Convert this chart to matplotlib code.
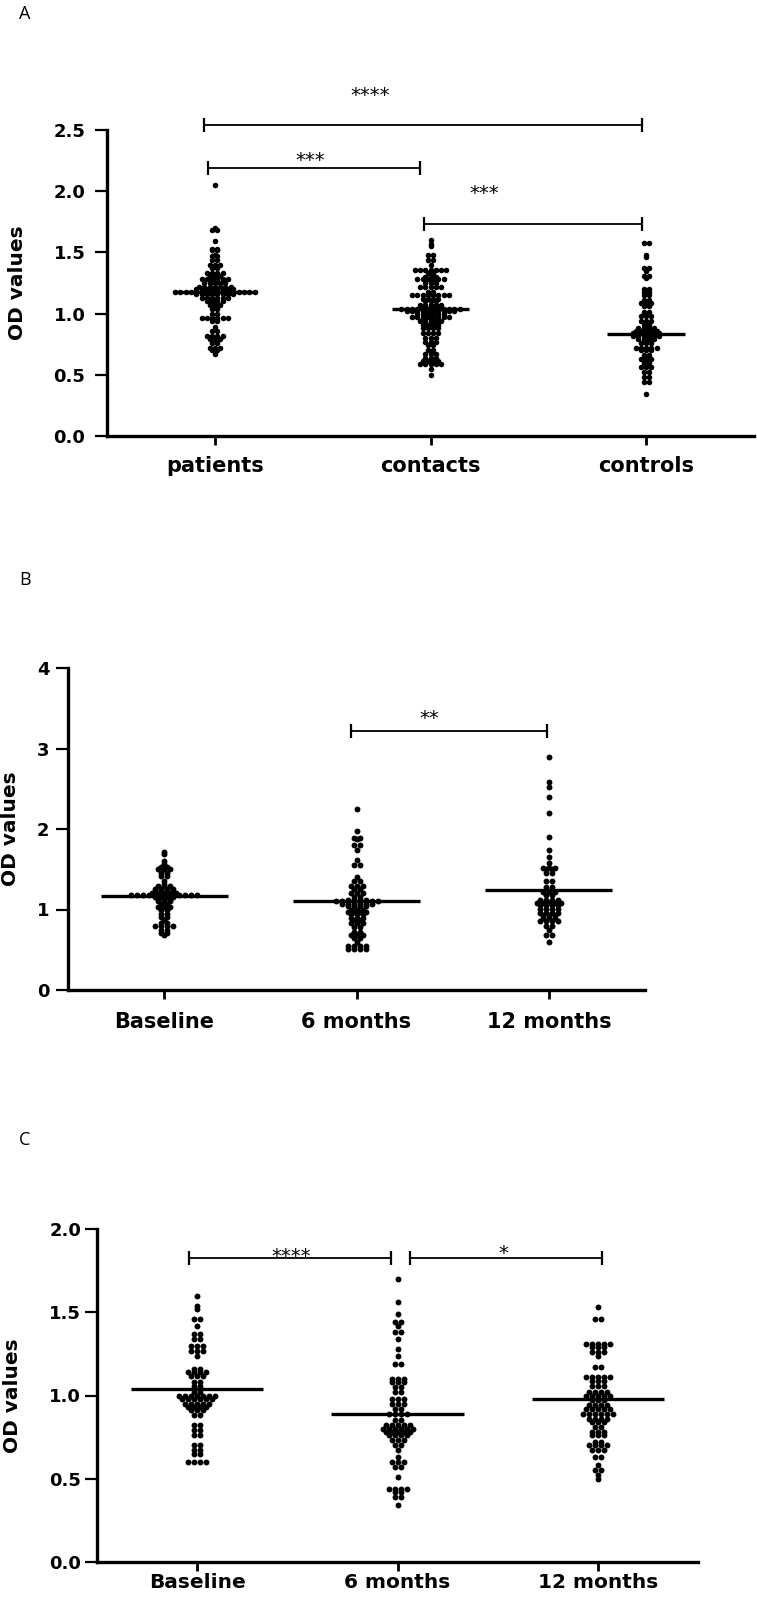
import matplotlib.pyplot as plt
import matplotlib.transforms as mtransforms
import numpy as np

plt.rcParams['font.family'] = 'DejaVu Sans'
plt.rcParams['font.weight'] = 'bold'
plt.rcParams['axes.labelweight'] = 'bold'

# ---- panel A data ----
groups_a = ['patients', 'contacts', 'controls']
patients = [2.05,
            1.70, 1.68, 1.68, 1.59,
            1.53, 1.53, 1.52, 1.52, 1.48, 1.47, 1.47, 1.44, 1.44,
            1.40, 1.40, 1.40, 1.37, 1.37, 1.33, 1.33, 1.33, 1.33,
            1.31, 1.31, 1.31, 1.28, 1.28, 1.28, 1.28, 1.28, 1.28,
            1.25, 1.25, 1.25, 1.25, 1.25, 1.22, 1.22, 1.22, 1.22, 1.22, 1.22, 1.22,
            1.20, 1.20, 1.20, 1.20, 1.20, 1.20, 1.20, 1.20,
            1.18, 1.18, 1.18, 1.18, 1.18, 1.18, 1.18, 1.18,
            1.18, 1.18, 1.18, 1.18, 1.18, 1.18, 1.18, 1.18,
            1.16, 1.16, 1.16, 1.16, 1.16, 1.16, 1.16, 1.16,
            1.13, 1.13, 1.13, 1.13, 1.13, 1.13, 1.10, 1.10, 1.10, 1.10,
            1.07, 1.07, 1.07, 1.04, 1.04, 1.00, 1.00,
            0.96, 0.96, 0.96, 0.96, 0.96, 0.96, 0.94, 0.94, 0.89, 0.86, 0.86,
            0.82, 0.82, 0.82, 0.82, 0.79, 0.79, 0.79, 0.76, 0.76,
            0.72, 0.72, 0.72, 0.70, 0.70, 0.67]
contacts = [1.60, 1.57, 1.55, 1.48, 1.48, 1.44, 1.44, 1.40,
            1.36, 1.36, 1.36, 1.36, 1.36, 1.36, 1.36, 1.33, 1.33,
            1.30, 1.30, 1.30, 1.28, 1.28, 1.28, 1.28, 1.28, 1.28,
            1.25, 1.25, 1.25, 1.22, 1.22, 1.22, 1.22, 1.22, 1.18, 1.18,
            1.15, 1.15, 1.15, 1.15, 1.15, 1.15, 1.15, 1.15,
            1.12, 1.12, 1.12, 1.12, 1.10, 1.10, 1.10,
            1.07, 1.07, 1.07, 1.07, 1.07,
            1.04, 1.04, 1.04, 1.04, 1.04, 1.04, 1.04, 1.04, 1.04, 1.04, 1.04, 1.04,
            1.02, 1.02, 1.02, 1.02, 1.02, 1.02, 1.02, 1.02, 1.02, 1.02,
            1.00, 1.00, 1.00, 1.00, 1.00, 1.00,
            0.97, 0.97, 0.97, 0.97, 0.97, 0.97, 0.97, 0.97,
            0.94, 0.94, 0.94, 0.94, 0.94, 0.91, 0.91, 0.91, 0.91,
            0.88, 0.88, 0.88, 0.88, 0.84, 0.84, 0.84, 0.84,
            0.80, 0.80, 0.80, 0.77, 0.77, 0.77, 0.74, 0.74, 0.70, 0.70,
            0.67, 0.67, 0.67, 0.64, 0.64, 0.64, 0.61, 0.61, 0.61, 0.61,
            0.59, 0.59, 0.59, 0.59, 0.59, 0.55, 0.50]
controls = [1.58, 1.58, 1.48, 1.46, 1.37, 1.37, 1.35, 1.31, 1.31, 1.29,
            1.20, 1.20, 1.18, 1.18, 1.15, 1.15, 1.11, 1.11, 1.09, 1.09, 1.09,
            1.06, 1.06, 1.01, 1.01, 0.98, 0.98, 0.98, 0.94, 0.94, 0.94,
            0.91, 0.91, 0.88, 0.88, 0.88, 0.88, 0.86, 0.86, 0.86, 0.86, 0.86,
            0.84, 0.84, 0.84, 0.84, 0.84, 0.84, 0.82, 0.82, 0.82, 0.82, 0.82, 0.82,
            0.79, 0.79, 0.79, 0.79, 0.76, 0.76, 0.76,
            0.72, 0.72, 0.72, 0.72, 0.72, 0.70, 0.70, 0.70,
            0.66, 0.66, 0.63, 0.63, 0.63, 0.60, 0.60, 0.56, 0.56, 0.56,
            0.52, 0.52, 0.48, 0.48, 0.44, 0.44, 0.34]
medians_a = [1.18, 1.04, 0.83]

# ---- panel B / C data ----
times = ['Baseline', '6 months', '12 months']
b_base = [1.71, 1.69, 1.60, 1.57, 1.53, 1.53, 1.50, 1.50, 1.50, 1.45, 1.45,
          1.41, 1.41, 1.36, 1.32, 1.29, 1.29, 1.29,
          1.25, 1.25, 1.25, 1.25, 1.22, 1.22, 1.22, 1.22,
          1.20, 1.20, 1.20, 1.20, 1.20,
          1.18, 1.18, 1.18, 1.18, 1.18, 1.18, 1.18, 1.18, 1.18, 1.18, 1.18, 1.18,
          1.16, 1.16, 1.16, 1.16, 1.13, 1.13, 1.13,
          1.10, 1.10, 1.10, 1.07, 1.07, 1.03, 1.03, 1.03, 1.00, 1.00,
          0.95, 0.95, 0.91, 0.91, 0.87, 0.83, 0.83, 0.80, 0.80, 0.80, 0.80,
          0.75, 0.75, 0.71, 0.71, 0.68]
b_6m = [2.25, 1.98, 1.89, 1.89, 1.87, 1.80, 1.80, 1.74, 1.62, 1.55, 1.55,
        1.40, 1.36, 1.36, 1.29, 1.29, 1.29, 1.25, 1.25, 1.21, 1.21, 1.21,
        1.16, 1.16, 1.12, 1.12, 1.12, 1.12,
        1.10, 1.10, 1.10, 1.10, 1.10, 1.10, 1.10, 1.10,
        1.07, 1.07, 1.07, 1.07, 1.07, 1.07, 1.04, 1.04, 1.04, 1.04,
        1.00, 1.00, 1.00, 0.97, 0.97, 0.97, 0.97, 0.94, 0.94, 0.94,
        0.90, 0.90, 0.90, 0.87, 0.87, 0.83, 0.83, 0.83, 0.78, 0.78,
        0.72, 0.72, 0.68, 0.68, 0.68, 0.64, 0.64, 0.60,
        0.55, 0.55, 0.55, 0.55, 0.51, 0.51, 0.51, 0.51]
b_12m = [2.89, 2.58, 2.52, 2.40, 2.20, 1.90, 1.74, 1.65, 1.58,
         1.52, 1.52, 1.52, 1.50, 1.50, 1.45, 1.45, 1.35, 1.35, 1.28, 1.28,
         1.22, 1.22, 1.22, 1.18, 1.18, 1.12, 1.12, 1.12, 1.12,
         1.08, 1.08, 1.08, 1.08, 1.08, 1.05, 1.05, 1.05, 1.05,
         1.01, 1.01, 1.01, 1.01, 0.96, 0.96, 0.96, 0.96, 0.93, 0.93, 0.93,
         0.89, 0.89, 0.89, 0.86, 0.86, 0.86, 0.86, 0.80, 0.80, 0.74,
         0.68, 0.68, 0.60]
medians_b = [1.17, 1.10, 1.24]

c_base = [1.60, 1.54, 1.52, 1.46, 1.46, 1.42, 1.37, 1.37, 1.34, 1.34,
          1.30, 1.30, 1.30, 1.27, 1.27, 1.27, 1.24, 1.16, 1.16,
          1.14, 1.14, 1.14, 1.14, 1.12, 1.12, 1.12, 1.08, 1.08, 1.06, 1.06,
          1.02, 1.02, 1.00, 1.00, 1.00, 1.00, 1.00, 1.00, 1.00,
          0.98, 0.98, 0.98, 0.98, 0.98, 0.98, 0.95, 0.95, 0.95, 0.95, 0.95,
          0.93, 0.93, 0.93, 0.93, 0.91, 0.91, 0.91, 0.88, 0.88,
          0.82, 0.82, 0.79, 0.79, 0.76, 0.76, 0.70, 0.70, 0.67, 0.67,
          0.65, 0.65, 0.60, 0.60, 0.60, 0.60]
c_6m = [1.70, 1.56, 1.49, 1.44, 1.44, 1.42, 1.38, 1.38, 1.34, 1.28, 1.24,
        1.19, 1.19, 1.10, 1.10, 1.10, 1.08, 1.08, 1.08, 1.05, 1.05, 1.02, 1.02,
        0.98, 0.98, 0.98, 0.95, 0.95, 0.95, 0.92, 0.92, 0.89, 0.89, 0.89, 0.89,
        0.85, 0.85, 0.82, 0.82, 0.82, 0.82, 0.82,
        0.80, 0.80, 0.80, 0.80, 0.80, 0.80, 0.78, 0.78, 0.78, 0.78, 0.78,
        0.76, 0.76, 0.76, 0.76, 0.73, 0.73, 0.73, 0.70, 0.70, 0.67, 0.63,
        0.60, 0.60, 0.60, 0.57, 0.57, 0.51, 0.44, 0.44, 0.44, 0.44,
        0.42, 0.42, 0.39, 0.39, 0.34]
c_12m = [1.53, 1.46, 1.46, 1.31, 1.31, 1.31, 1.31, 1.31, 1.29, 1.29, 1.29,
         1.26, 1.26, 1.26, 1.24, 1.17, 1.17,
         1.11, 1.11, 1.11, 1.11, 1.11, 1.09, 1.09, 1.09, 1.06, 1.06, 1.06,
         1.02, 1.02, 1.02, 1.02, 1.00, 1.00, 1.00, 1.00, 1.00,
         0.97, 0.97, 0.97, 0.94, 0.94, 0.94, 0.94, 0.92, 0.92, 0.92, 0.92, 0.92,
         0.89, 0.89, 0.89, 0.89, 0.89, 0.89, 0.86, 0.86, 0.86, 0.86,
         0.84, 0.84, 0.84, 0.81, 0.81, 0.78, 0.78, 0.78, 0.76, 0.76, 0.76,
         0.72, 0.72, 0.70, 0.70, 0.70, 0.70, 0.67, 0.67, 0.67, 0.63, 0.63,
         0.58, 0.55, 0.55, 0.52, 0.50]
medians_c = [1.04, 0.89, 0.98]

W, H = 757, 1599
fig = plt.figure(figsize=(W / 100, H / 100), dpi=100)


def add_axes_px(left, right, top, bottom):
    return fig.add_axes([left / W, 1 - bottom / H, (right - left) / W, (bottom - top) / H])


def row_x(ax, xc, vals, d, tol=1.0):
    # Prism-like scatter: values closer than tol pixels share a row,
    # each row is spread symmetrically around the group centre
    vals = np.asarray(vals, dtype=float)
    ypx = ax.transData.transform(np.column_stack([np.full(len(vals), xc), vals]))[:, 1]
    order = np.argsort(ypx, kind='stable')
    rows = []
    for i in order:
        if rows and ypx[i] - ypx[rows[-1][0]] <= tol:
            rows[-1].append(i)
        else:
            rows.append([i])
    xs = np.zeros(len(vals))
    for r in rows:
        n = len(r)
        xs[r] = (np.arange(n) - (n - 1) / 2) * d
    x0 = ax.transData.transform((xc, 0))[0]
    x1 = ax.transData.transform((xc + 1, 0))[0]
    return xc + xs / (x1 - x0)


def style_axes(ax, ylim, yticks, fmt, ytick_pad, xtick_pad, xsize=15):
    ax.set_xlim(-0.5, 2.5)
    ax.set_ylim(*ylim)
    for s in ['top', 'right']:
        ax.spines[s].set_visible(False)
    for s in ['left', 'bottom']:
        ax.spines[s].set_linewidth(2.4)
    ax.set_yticks(yticks)
    ax.set_yticklabels([fmt.format(t) for t in yticks])
    ax.tick_params(axis='y', length=8.5, width=1.6, labelsize=13, pad=ytick_pad)
    ax.tick_params(axis='x', length=6.5, width=2.0, labelsize=xsize, pad=xtick_pad)


def draw_groups(ax, labels, data, medians, d, size, half):
    ax.set_xticks(range(len(labels)))
    ax.set_xticklabels(labels)
    for i, vals in enumerate(data):
        xs = row_x(ax, i, vals, d)
        ax.scatter(xs, vals, s=size, color='black', linewidths=0, zorder=3, clip_on=False)
        ax.hlines(medians[i], i - half, i + half, color='black', lw=2.4, zorder=4)


def bracket(ax, x1, x2, y, stars, sx, sy):
    ax.plot([x1, x2], [y, y], color='black', lw=1.3, marker='|', ms=9.5, mew=1.6,
            clip_on=False, solid_capstyle='butt')
    tr = mtransforms.offset_copy(ax.transData, fig=fig, y=-6, units='dots')
    ax.text(sx, sy, stars, transform=tr, ha='center', va='center', fontsize=14,
            fontweight='normal', clip_on=False)


# ---- Panel A ----
axA = add_axes_px(107, 754, 130, 436)
style_axes(axA, (0, 2.5), [0, 0.5, 1.0, 1.5, 2.0, 2.5], '{:.1f}', 7, 8)
draw_groups(axA, groups_a, [patients, contacts, controls], medians_a, 5.3, 16, 0.18)
axA.set_ylabel('OD values', fontsize=14.5)
axA.yaxis.set_label_coords(-0.124, 0.5)
bracket(axA, -0.05, 1.98, 2.54, '****', 0.72, 2.83)
bracket(axA, -0.03, 0.95, 2.19, '***', 0.44, 2.30)
bracket(axA, 0.97, 1.98, 1.73, '***', 1.25, 2.03)

# ---- Panel B ----
axB = add_axes_px(68, 645, 668, 990)
style_axes(axB, (0, 4), [0, 1, 2, 3, 4], '{:d}', 5, 9)
draw_groups(axB, times, [b_base, b_6m, b_12m], medians_b, 6.0, 18, 0.33)
axB.set_ylabel('OD values', fontsize=14.5)
axB.yaxis.set_label_coords(-0.083, 0.5)
bracket(axB, 0.97, 1.99, 3.22, '**', 1.38, 3.45)

# ---- Panel C ----
axC = add_axes_px(97, 698, 1229, 1562)
style_axes(axC, (0, 2.0), [0, 0.5, 1.0, 1.5, 2.0], '{:.1f}', 3, 1.5, xsize=14.5)
draw_groups(axC, times, [c_base, c_6m, c_12m], medians_c, 6.0, 18, 0.33)
axC.set_ylabel('OD values', fontsize=14.5)
axC.yaxis.set_label_coords(-0.125, 0.5)
bracket(axC, -0.04, 0.97, 1.826, '****', 0.47, 1.87)
bracket(axC, 1.06, 2.02, 1.826, '*', 1.53, 1.89)

# panel letters
for letter, ypx in [('A', 14), ('B', 580), ('C', 1140)]:
    fig.text(19 / W, 1 - ypx / H, letter, fontsize=13, fontweight='normal',
             family='Open Sans', ha='left', va='center')

fig.savefig('out.png', dpi=100)
